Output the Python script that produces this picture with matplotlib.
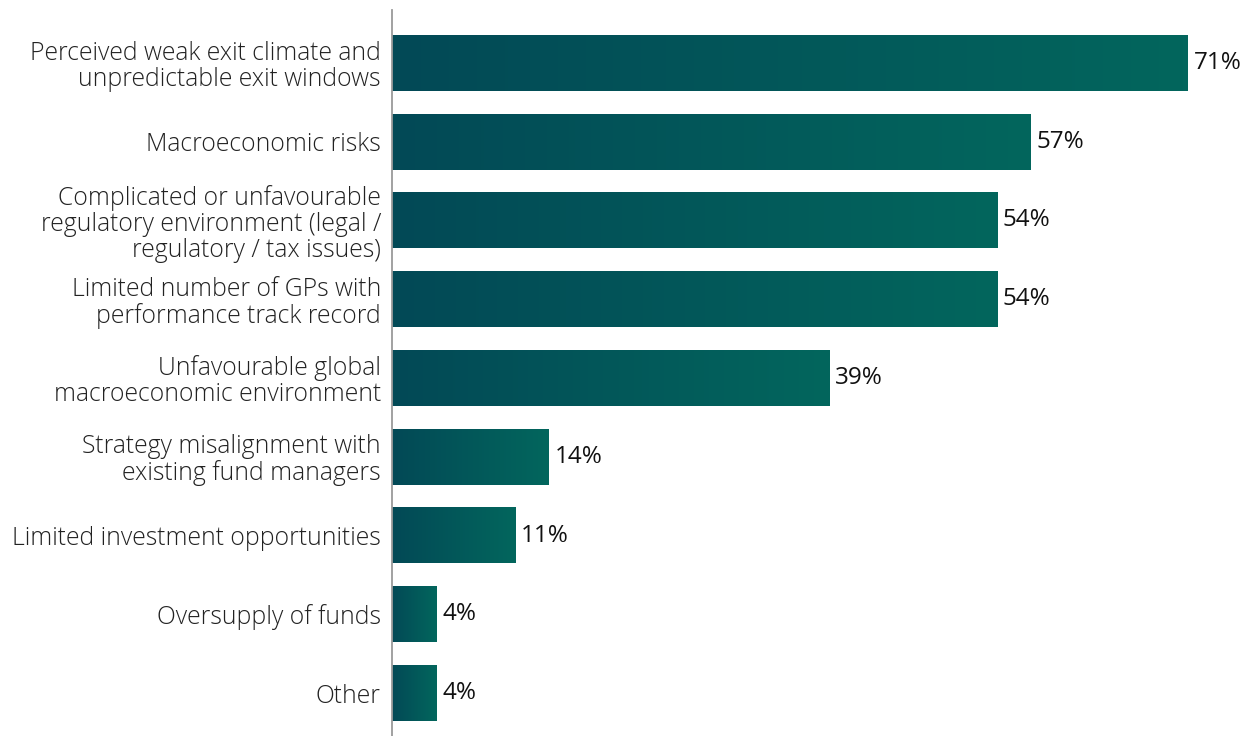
import matplotlib.pyplot as plt
import matplotlib.colors as mcolors
import numpy as np

# survey responses, top to bottom
labels = [
    "Perceived weak exit climate and\nunpredictable exit windows",
    "Macroeconomic risks",
    "Complicated or unfavourable\nregulatory environment (legal /\nregulatory / tax issues)",
    "Limited number of GPs with\nperformance track record",
    "Unfavourable global\nmacroeconomic environment",
    "Strategy misalignment with\nexisting fund managers",
    "Limited investment opportunities",
    "Oversupply of funds",
    "Other",
]
values = [71, 57, 54, 54, 39, 14, 11, 4, 4]

plt.rcParams['font.family'] = ['Open Sans', 'DejaVu Sans']

fig = plt.figure(figsize=(12.43, 7.36), dpi=100)
ax = fig.add_axes([392 / 1243, 0, 1 - 392 / 1243, 726 / 736])

# horizontal gradient, dark teal on the left to lighter teal on the right
cmap = mcolors.LinearSegmentedColormap.from_list("teal", ["#024956", "#03665d"])
grad = np.linspace(0, 1, 256).reshape(1, -1)

ypos = np.arange(len(values))
bar_h = 0.71
bars = ax.barh(ypos, values, height=bar_h, color="#025a5a", edgecolor="none")
for bar, v in zip(bars, values):
    y0 = bar.get_y()
    ax.imshow(grad, cmap=cmap, aspect="auto", interpolation="bicubic",
              extent=[0, v, y0 + bar_h, y0], zorder=3)
    ax.text(v + 0.5, bar.get_y() + bar_h / 2, f"{v}%", va="center", ha="left",
            fontsize=17.5, color="#111111")

ax.set_xlim(0, (1243 - 392) / 11.21)
ax.set_ylim(len(values) - 1 + 0.546, -0.673)

ax.set_yticks(ypos)
ax.set_yticklabels(labels, fontsize=17.8, color="#222222", linespacing=1.05,
                   fontweight="light")
ax.tick_params(axis="y", length=0, pad=8)
ax.set_xticks([])

for side in ["top", "right", "bottom"]:
    ax.spines[side].set_visible(False)
ax.spines["left"].set_color("#9a9a9a")
ax.spines["left"].set_linewidth(1.3)
ax.spines["left"].set_zorder(5)

fig.savefig("out.png", dpi=100)
